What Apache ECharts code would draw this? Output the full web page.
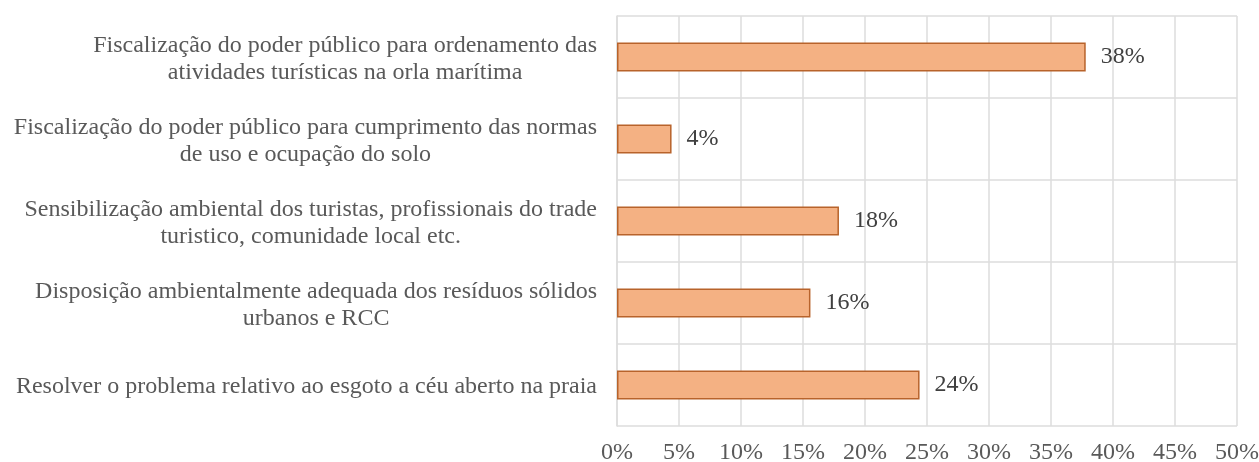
<!DOCTYPE html>
<html>
<head>
<meta charset="utf-8">
<script src="https://cdn.jsdelivr.net/npm/echarts@6/dist/echarts.min.js"></script>
<style>
html,body{margin:0;padding:0;background:#fff;}
#c{width:1259px;height:462px;}
</style>
</head>
<body>
<div id="c"></div>
<script>
const categories = [
  "Fiscalização do poder público para ordenamento das\natividades turísticas na orla marítima",
  "Fiscalização do poder público para cumprimento das normas\nde uso e ocupação do solo",
  "Sensibilização ambiental dos turistas, profissionais do trade\nturistico, comunidade local etc.",
  "Disposição ambientalmente adequada dos resíduos sólidos\nurbanos e RCC",
  "Resolver o problema relativo ao esgoto a céu aberto na praia"
];
const values = [37.8, 4.4, 17.9, 15.6, 24.4];
const xTicks = { min: 0, max: 50, interval: 5 };

const FONT = "'Liberation Serif', 'DejaVu Serif', serif";
const chart = echarts.init(document.getElementById('c'), null, { renderer: 'canvas' });
chart.setOption({
  animation: false,
  backgroundColor: '#ffffff',
  grid: { left: 617, right: 22, top: 16, bottom: 36, containLabel: false, outerBoundsMode: 'none' },
  xAxis: {
    type: 'value',
    min: xTicks.min, max: xTicks.max, interval: xTicks.interval,
    axisLine: { show: false },
    axisTick: { show: false },
    splitLine: { show: true, lineStyle: { color: '#dcdcdc', width: 1.5 } },
    axisLabel: {
      formatter: v => v + '%',
      fontFamily: FONT, fontSize: 24, color: '#595959', margin: 15
    }
  },
  yAxis: {
    type: 'category',
    inverse: true,
    data: categories,
    axisLine: { show: true, lineStyle: { color: '#dcdcdc', width: 1.5 } },
    axisTick: { show: false },
    splitLine: { show: true, lineStyle: { color: '#dcdcdc', width: 1.5 } },
    axisLabel: {
      margin: 20,
      align: 'right',
      formatter: v => v.split('\n').map(s => '{c|' + s + '}').join('\n'),
      rich: {
        c: { align: 'center', fontFamily: FONT, fontSize: 24, color: '#595959', lineHeight: 27, padding: [4, 0, 0, 0] }
      }
    }
  },
  series: [{
    type: 'bar',
    data: values,
    barWidth: 29,
    itemStyle: { color: '#f4b183', borderColor: '#b8632b', borderWidth: 1.5 },
    label: {
      show: true,
      position: 'right',
      distance: 15,
      formatter: p => Math.round(p.value) + '%',
      fontFamily: FONT, fontSize: 24, color: '#404040'
    }
  }]
});
</script>
</body>
</html>
